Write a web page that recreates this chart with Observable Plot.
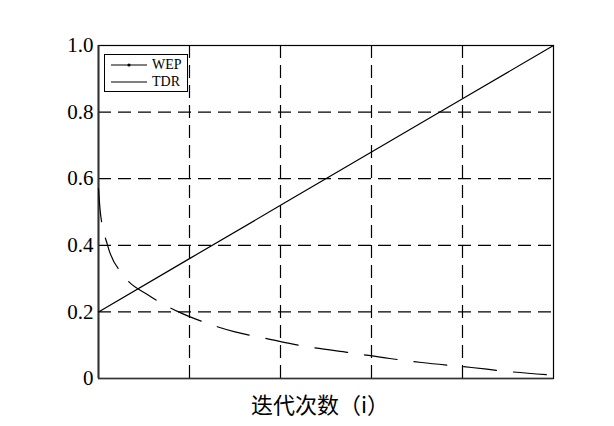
<!DOCTYPE html>
<html>
<head>
<meta charset="utf-8">
<script src="https://cdn.jsdelivr.net/npm/d3@7"></script>
<script src="https://cdn.jsdelivr.net/npm/@observablehq/plot@0.6"></script>
<style>
  html, body { margin: 0; padding: 0; background: #fff; }
  #wrap { position: relative; width: 614px; height: 426px; }
  #legend {
    position: absolute; left: 104px; top: 54px; width: 84px; height: 38px;
    border: 1px solid #000; background: #fff; box-sizing: border-box;
    font-family: "Liberation Serif", "DejaVu Serif", serif; font-size: 14px;
  }
  #legend .row { position: absolute; left: 6px; height: 14px; display: flex; align-items: center; }
  #legend .row span { margin-left: 5px; line-height: 14px; }
  #xlabel {
    position: absolute; left: 0; width: 640px; top: 387px; text-align: center;
    font-family: "Noto Sans CJK SC", sans-serif; font-size: 22px; color: #000;
  }
</style>
</head>
<body>
<div id="wrap"></div>
<script>
// Data
const wepX = [0, 0.2, 0.4, 0.6, 0.8, 1.0];
const wepY = [0.2, 0.36, 0.52, 0.68, 0.84, 1.0];
const tdrX = [0.0, 0.004, 0.02, 0.055, 0.11, 0.176, 0.23, 0.30, 0.37, 0.44, 0.565, 0.64, 0.71, 0.82, 0.90, 1.0];
const tdrY = [0.57, 0.50, 0.40, 0.31, 0.25, 0.20, 0.17, 0.14, 0.12, 0.10, 0.075, 0.06, 0.048, 0.033, 0.021, 0.01];
const yTicks = [0, 0.2, 0.4, 0.6, 0.8, 1.0];
const yTickLabels = ["0", "0.2", "0.4", "0.6", "0.8", "1.0"];
const gridX = [0.2, 0.4, 0.6, 0.8];
const gridY = [0.2, 0.4, 0.6, 0.8];
const seriesNames = ["WEP", "TDR"];
const xLabel = "迭代次数（i）";

const wep = wepX.map((x, i) => ({x, y: wepY[i]}));
const tdr = tdrX.map((x, i) => ({x, y: tdrY[i]}));

const chart = Plot.plot({
  width: 614,
  height: 426,
  marginLeft: 98,
  marginRight: 61,
  marginTop: 45,
  marginBottom: 48,
  style: { fontFamily: "'Liberation Serif', 'DejaVu Serif', serif", fontSize: "21px", color: "#000", background: "#fff" },
  x: { domain: [0, 1], axis: null },
  y: { domain: [0, 1], axis: null },
  marks: [
    Plot.ruleX(gridX, { stroke: "#000", strokeWidth: 1.2, strokeDasharray: "13,7" }),
    Plot.ruleY(gridY, { stroke: "#000", strokeWidth: 1.2, strokeDasharray: "13,7" }),
    Plot.frame({ stroke: "#000", strokeWidth: 1.2 }),
    Plot.ruleX([0], { stroke: "#333", strokeWidth: 2 }),
    Plot.ruleY([0], { stroke: "#333", strokeWidth: 1.6 }),
    Plot.line(tdr, { x: "x", y: "y", stroke: "#000", strokeWidth: 1.2, strokeDasharray: "33,17", curve: "monotone-x" }),
    Plot.line(wep, { x: "x", y: "y", stroke: "#000", strokeWidth: 1.2 }),
    Plot.axisY(yTicks, { tickSize: 0, tickPadding: 5, tickFormat: (d, i) => yTickLabels[i], fontSize: 21, label: null })
  ]
});

const wrap = document.getElementById("wrap");
wrap.appendChild(chart);

// Legend
const legend = document.createElement("div");
legend.id = "legend";
seriesNames.forEach((name, i) => {
  const row = document.createElement("div");
  row.className = "row";
  row.style.top = (i === 0 ? 3 : 20) + "px";
  const dot = i === 0 ? '<circle cx="18" cy="7" r="1.6" fill="#000"/>' : '';
  row.innerHTML = `<svg width="36" height="14"><line x1="0" x2="36" y1="7" y2="7" stroke="#000" stroke-width="1"/>${dot}</svg><span>${name}</span>`;
  legend.appendChild(row);
});
wrap.appendChild(legend);

const xl = document.createElement("div");
xl.id = "xlabel";
xl.textContent = xLabel;
wrap.appendChild(xl);
</script>
</body>
</html>
